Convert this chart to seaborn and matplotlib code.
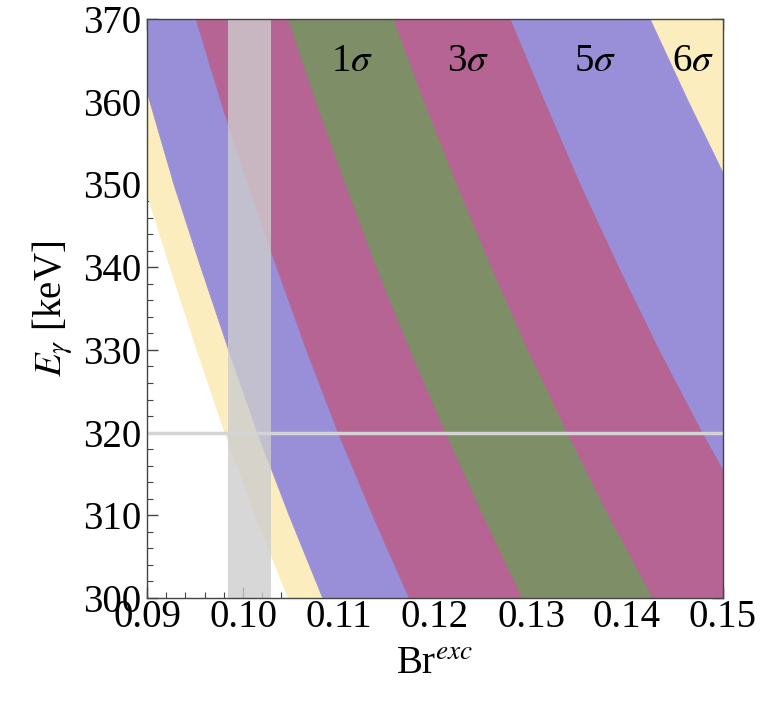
import seaborn as sns
import pandas as pd
import numpy as np
import matplotlib.pyplot as plt
from matplotlib.ticker import MultipleLocator

# energy grid (keV) at which the band edges were read
energy = [300, 310, 320, 330, 340, 350, 360, 370]

# Br^exc of each band edge at those energies
s6_lo = [0.1047, 0.1013, 0.0981, 0.0952, 0.0924, 0.0897, 0.0872, 0.0849]
s6_hi = [0.1867, 0.1806, 0.1750, 0.1697, 0.1647, 0.1600, 0.1556, 0.1514]
s5_lo = [0.1083, 0.1048, 0.1015, 0.0985, 0.0956, 0.0928, 0.0903, 0.0878]
s5_hi = [0.1757, 0.1700, 0.1647, 0.1597, 0.1550, 0.1506, 0.1464, 0.1424]
s3_lo = [0.1173, 0.1135, 0.1099, 0.1066, 0.1035, 0.1005, 0.0977, 0.0951]
s3_hi = [0.1577, 0.1526, 0.1478, 0.1433, 0.1391, 0.1351, 0.1314, 0.1278]
s1_lo = [0.1291, 0.1250, 0.1211, 0.1174, 0.1139, 0.1107, 0.1076, 0.1047]
s1_hi = [0.1426, 0.1380, 0.1337, 0.1296, 0.1258, 0.1222, 0.1188, 0.1156]

# measured value: gray band and line
br_meas = [0.0984, 0.1029]
e_meas = 320

labels = ["1$\\sigma$", "3$\\sigma$", "5$\\sigma$", "6$\\sigma$"]
label_x = [0.1114, 0.1234, 0.1367, 0.1469]
label_y = [363.7, 363.7, 363.7, 363.7]

sns.set_theme(style="ticks")
plt.rcParams['font.family'] = ['Liberation Serif', 'DejaVu Serif']
plt.rcParams['mathtext.fontset'] = 'stix'
plt.rcParams['text.color'] = 'black'
plt.rcParams['axes.labelcolor'] = 'black'
plt.rcParams['xtick.labelcolor'] = 'black'
plt.rcParams['ytick.labelcolor'] = 'black'

df = pd.DataFrame({"E": energy,
                   "s6_lo": s6_lo, "s6_hi": s6_hi,
                   "s5_lo": s5_lo, "s5_hi": s5_hi,
                   "s3_lo": s3_lo, "s3_hi": s3_hi,
                   "s1_lo": s1_lo, "s1_hi": s1_hi})

bands = [("s6", "#fcedbf"), ("s5", "#988fd8"), ("s3", "#b56494"), ("s1", "#7e8f68")]

fig = plt.figure(figsize=(7.75, 7.02), dpi=100)
ax = fig.add_axes([0.1897, 0.1481, 0.7432, 0.8248])

z = 1
for key, col in bands:
    sns.lineplot(data=df, x=key + "_lo", y="E", orient="y", color=col, lw=0.5, ax=ax, zorder=z)
    sns.lineplot(data=df, x=key + "_hi", y="E", orient="y", color=col, lw=0.5, ax=ax, zorder=z)
    ax.fill_betweenx(df["E"], df[key + "_lo"], df[key + "_hi"], color=col, lw=0, zorder=z + 0.5)
    z += 1

ax.axvspan(br_meas[0], br_meas[1], color="#cdcdcd", alpha=0.8, lw=0, zorder=10)
ax.axhline(e_meas, color="#d4d4d4", lw=2.5, zorder=11)

for t, x, y in zip(labels, label_x, label_y):
    ax.text(x, y, t, fontsize=28, ha="center", va="baseline", color="black", zorder=12)

ax.set_xlim(0.09, 0.15)
ax.set_ylim(300, 370)
ax.xaxis.set_major_locator(MultipleLocator(0.01))
ax.xaxis.set_minor_locator(MultipleLocator(0.002))
ax.yaxis.set_major_locator(MultipleLocator(10))
ax.yaxis.set_minor_locator(MultipleLocator(2))
ax.set_xticklabels([f"{v:.2f}" for v in ax.get_xticks()])
ax.tick_params(which="both", direction="in", top=True, right=True, color="#444444", labelsize=28)
ax.tick_params(axis="x", pad=1)
ax.tick_params(axis="y", pad=4)
ax.tick_params(which="major", length=8, width=1)
ax.tick_params(which="minor", length=4.5, width=0.8)
for sp in ax.spines.values():
    sp.set_color("#444444")
    sp.set_linewidth(1)
    sp.set_zorder(15)

ax.set_xlabel(r"Br$^{exc}$", fontsize=28, labelpad=6)
ax.set_ylabel(r"$E_\gamma$ [keV]", fontsize=28, labelpad=6)

fig.savefig("out.png", dpi=100)
